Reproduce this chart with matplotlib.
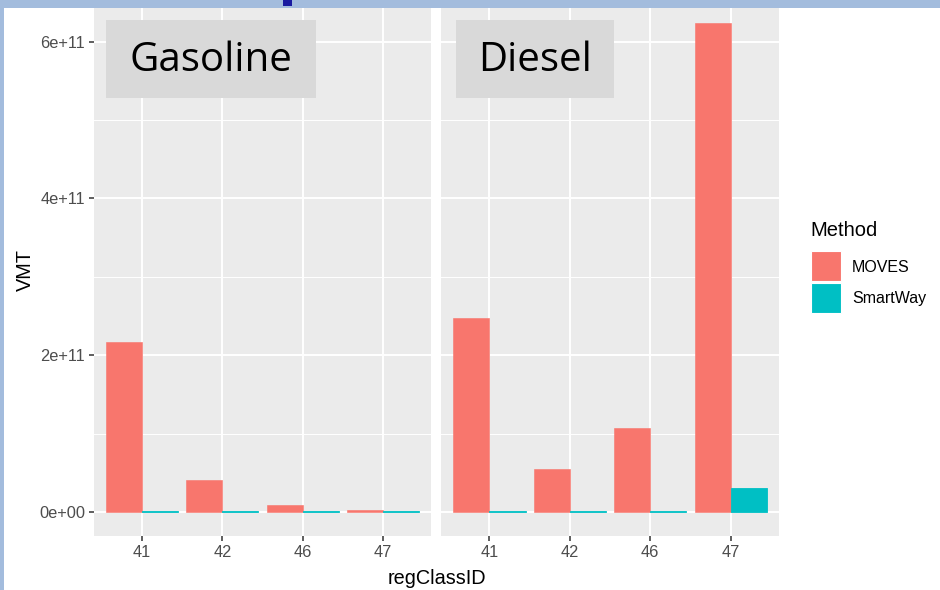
import matplotlib.pyplot as plt
from matplotlib.patches import Rectangle
import numpy as np

plt.rcParams['font.family'] = ['Liberation Sans', 'DejaVu Sans']

reg_class = ['41', '42', '46', '47']
fuels = ['Gasoline', 'Diesel']
moves = {'Gasoline': [2.17e11, 4.1e10, 9.0e9, 2.5e9],
         'Diesel': [2.48e11, 5.5e10, 1.07e11, 6.24e11]}
smartway = {'Gasoline': [1.2e9, 1.0e9, 1.0e9, 1.0e9],
            'Diesel': [1.5e9, 1.2e9, 1.2e9, 3.05e10]}
y_ticks = [0, 2e11, 4e11, 6e11]
y_ticklabels = ['0e+00', '2e+11', '4e+11', '6e+11']

c_moves = '#F8766D'
c_smart = '#00BFC4'
W, H = 940, 590

fig = plt.figure(figsize=(W / 100, H / 100), dpi=100)

def px_axes(x0, y0, x1, y1):
    return fig.add_axes([x0 / W, 1 - y1 / H, (x1 - x0) / W, (y1 - y0) / H])

panels = [(94, 431), (441, 779)]
boxes = [(106, 316), (456, 614)]
x = np.arange(len(reg_class))

for i, fuel in enumerate(fuels):
    ax = px_axes(panels[i][0], 8, panels[i][1], 536)
    ax.set_facecolor('#EBEBEB')
    for s in ax.spines.values():
        s.set_visible(False)
    ax.set_xlim(-0.6, 3.6)
    ax.set_ylim(-3.06e10, 6.43e11)
    ax.set_yticks(y_ticks)
    ax.set_yticks([1e11, 3e11, 5e11], minor=True)
    ax.set_xticks(x)
    ax.set_xticklabels(reg_class)
    ax.grid(True, which='major', color='white', linewidth=1.4)
    ax.grid(True, which='minor', axis='y', color='white', linewidth=0.7)
    ax.set_axisbelow(True)
    ax.tick_params(which='major', length=3.5, width=1.1, color='#333333',
                   labelcolor='#4D4D4D', labelsize=11.8, pad=3)
    ax.tick_params(which='minor', length=0)
    if i == 0:
        ax.set_yticklabels(y_ticklabels)
    else:
        ax.tick_params(axis='y', which='major', length=0, labelleft=False)
    ax.bar(x - 0.225, moves[fuel], width=0.45, color=c_moves,
           edgecolor=c_moves, linewidth=0.4)
    ax.bar(x + 0.225, smartway[fuel], width=0.45, color=c_smart,
           edgecolor=c_smart, linewidth=0.6)

    b0, b1 = boxes[i]
    fig.patches.append(Rectangle((b0 / W, 1 - 98 / H), (b1 - b0) / W, 78 / H,
                                 transform=fig.transFigure, facecolor='#D9D9D9',
                                 edgecolor='none', zorder=5))
    fig.text((b0 + b1) / 2 / W, 1 - 61 / H, fuel, ha='center', va='center',
             fontsize=29, family=['Open Sans', 'DejaVu Sans'], zorder=6)

fig.text(437 / W, 1 - 578 / H, 'regClassID', ha='center', va='center',
         fontsize=14.3, color='black')
fig.text(25 / W, 1 - 270 / H, 'VMT', ha='center', va='center',
         fontsize=14.3, rotation=90, color='black')

# legend
fig.text(810 / W, 1 - 231 / H, 'Method', ha='left', va='center', fontsize=14.5)
for j, (lab, col) in enumerate([('MOVES', c_moves), ('SmartWay', c_smart)]):
    y0 = 251 + j * 32
    fig.patches.append(Rectangle((811 / W, 1 - (y0 + 30) / H), 30 / W, 30 / H,
                                 transform=fig.transFigure, facecolor=col,
                                 edgecolor='white', linewidth=0.8))
    fig.text(852 / W, 1 - (y0 + 16) / H, lab, ha='left', va='center',
             fontsize=11.5)

# slide frame remnants
fig.patches.append(Rectangle((0, 0), 4 / W, 1, transform=fig.transFigure,
                             facecolor='#A3BCDD', edgecolor='none', zorder=10))
fig.patches.append(Rectangle((0, 1 - 8 / H), 1, 8 / H, transform=fig.transFigure,
                             facecolor='#A3BCDD', edgecolor='none', zorder=10))
fig.patches.append(Rectangle((283 / W, 1 - 6 / H), 9 / W, 6 / H,
                             transform=fig.transFigure, facecolor='#1A1AA0',
                             edgecolor='none', zorder=11))

fig.savefig('out.png', dpi=100)
